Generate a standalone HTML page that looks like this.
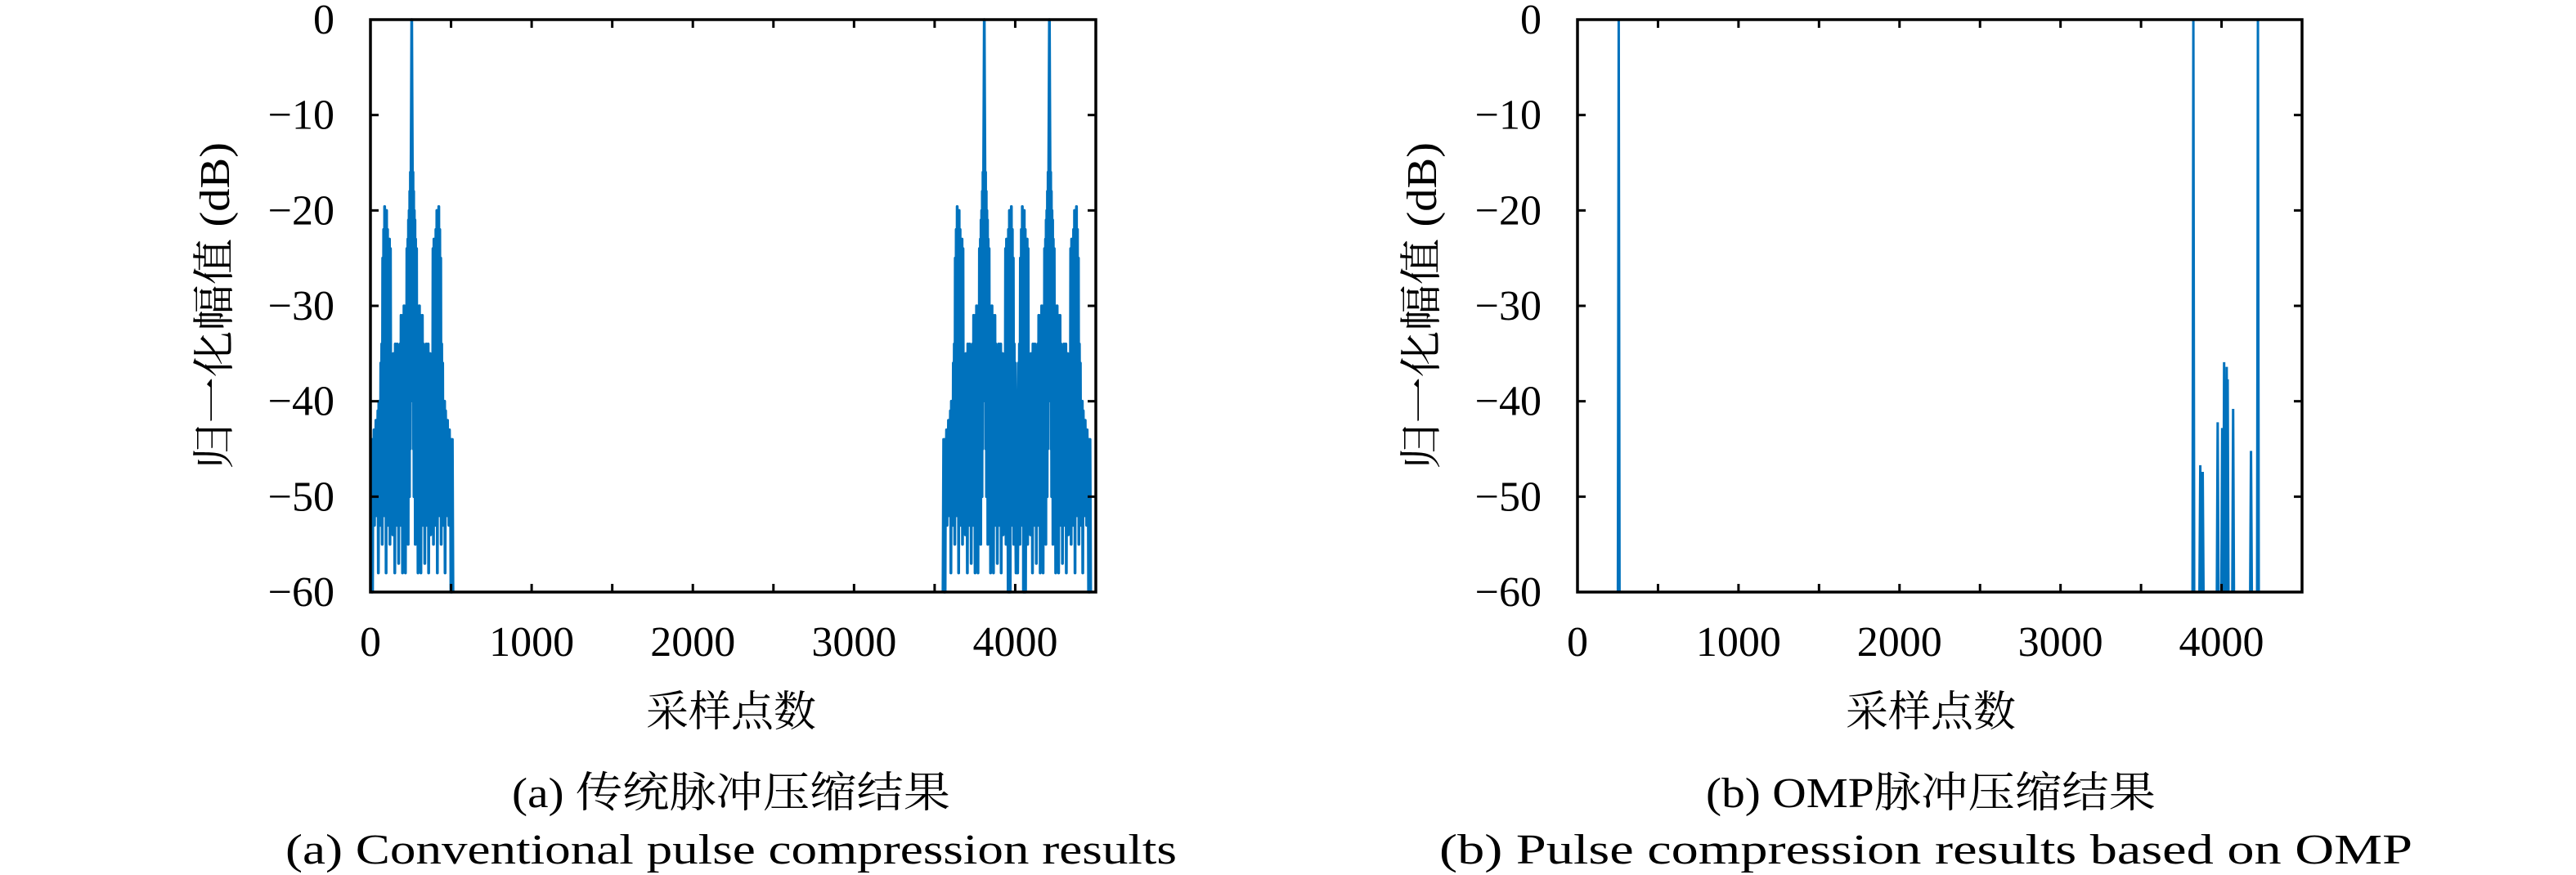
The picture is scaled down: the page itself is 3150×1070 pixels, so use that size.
<!DOCTYPE html>
<html><head><meta charset="utf-8">
<style>
html,body{margin:0;padding:0;background:#fff;}
svg{display:block;}
text{font-family:"Liberation Serif","Noto Serif CJK SC","Noto Sans CJK SC",serif;fill:#000;}
</style></head>
<body>
<svg id="fig" width="3150" height="1070" viewBox="0 0 3150 1070" xmlns="http://www.w3.org/2000/svg">
<defs>
<clipPath id="clipA"><rect x="453" y="22" width="887" height="704"/></clipPath>
<clipPath id="clipB"><rect x="1929" y="22" width="886" height="704"/></clipPath>
</defs>
<g id="panelA"></g>
<g id="panelB"></g>
<text x="894" y="987" font-size="52" text-anchor="middle" textLength="536" lengthAdjust="spacingAndGlyphs">(a) 传统脉冲压缩结果</text>
<text x="894" y="1056" font-size="52" text-anchor="middle" textLength="1090" lengthAdjust="spacingAndGlyphs">(a) Conventional pulse compression results</text>
<text x="2361" y="987" font-size="52" text-anchor="middle" textLength="550" lengthAdjust="spacingAndGlyphs">(b) OMP脉冲压缩结果</text>
<text x="2355" y="1056" font-size="52" text-anchor="middle" textLength="1190" lengthAdjust="spacingAndGlyphs">(b) Pulse compression results based on OMP</text>
</svg>
<script>
// ---- data ----
const xTickLabels = [0, 1000, 2000, 3000, 4000];
const xMinorTicks = [0, 500, 1000, 1500, 2000, 2500, 3000, 3500, 4000, 4500];
const yTickLabels = [0, -10, -20, -30, -40, -50, -60];
// conventional: pulse centres
const convPeaks = [256, 3808, 4212];
// one-sided sidelobe pattern (offset in samples from peak, dB)
const lobeOffsets = [0,2,4,6,8,10,12,14,16,18,20,22,24,27,30,33,36,39,42,45,48,51,54,57,60,63,66,69,72,75,78,81,84,87,90,93,96,99,102,105,108,111,114,117,120,123,126,129,132,135,138,141,144,147,150,153,156,159,162,165,168,171,174,177,180,183,186,189,192,195,198,201,204,207,210,213,216,219,222,225,228,231,234,237,240,243,246,249,252,256];
const lobeDb = [0,-8,-15,-40,-16,-45,-18,-50,-20,-40,-21,-55,-23,-45,-24,-52,-30,-58,-31,-47,-30,-50,-31,-58,-33,-44,-31,-53,-34,-40,-36,-57,-35,-45,-34,-53,-38,-48,-34,-58,-40,-46,-35,-54,-38,-45,-36,-50,-24,-55,-23,-45,-23,-53,-22,-48,-20,-58,-20,-45,-19.6,-52,-22,-47,-25,-55,-34,-45,-36,-53,-40,-48,-40,-58,-41,-46,-42,-52,-42,-47,-43,-53,-43,-48,-44,-60,-44,-60,-44,-60];
// OMP spikes
const ompPos = [256, 3825, 3868, 3883, 3976, 4004, 4016, 4032, 4038, 4072, 4183, 4226];
const ompDb = [0, 0, -46.7, -47.4, -42.2, -42.8, -35.9, -36.4, -37.7, -40.8, -45.2, 0];

const NS = "http://www.w3.org/2000/svg";
function mk(tag, attrs, parent){const e=document.createElementNS(NS,tag);for(const k in attrs)e.setAttribute(k,attrs[k]);parent.appendChild(e);return e;}

function axes(g, X0, X1, Y0, Y1, xmax, labelCx){
  const sx = v => X0 + (v/xmax)*(X1-X0);
  const sy = v => Y0 + (v/-60)*(Y1-Y0);
  return {sx, sy, draw: function(){
    const box = mk('rect',{x:X0,y:Y0,width:X1-X0,height:Y1-Y0,fill:'none',stroke:'#000','stroke-width':3.5},g);
    
    
    xMinorTicks.forEach(v=>{
      const x=sx(v);
      const t1=mk('line',{x1:x,y1:Y1,x2:x,y2:Y1-10,stroke:'#000','stroke-width':3},g);
      
      
      const t2=mk('line',{x1:x,y1:Y0,x2:x,y2:Y0+10,stroke:'#000','stroke-width':3},g);
      
      
    });
    xTickLabels.forEach(v=>{
      const t=mk('text',{x:sx(v),y:Y1+78,'font-size':52,'text-anchor':'middle'},g);
      t.textContent=String(v);
      
      
    });
    yTickLabels.forEach(v=>{
      const y=sy(v);
      const a=mk('line',{x1:X0,y1:y,x2:X0+10,y2:y,stroke:'#000','stroke-width':3},g);
      
      
      const b=mk('line',{x1:X1,y1:y,x2:X1-10,y2:y,stroke:'#000','stroke-width':3},g);
      
      
      const t=mk('text',{x:X0-44,y:y+17,'font-size':52,'text-anchor':'end'},g);
      t.textContent = v===0 ? '0' : '\u2212'+Math.abs(v);
      
      
    });
    const xl=mk('text',{x:labelCx,y:888,'font-size':52,'text-anchor':'middle'},g);
    xl.textContent='采样点数';
    
    
    const yx = X0-190, yc=(Y0+Y1)/2;
    const yl=mk('text',{x:yx,y:yc,'font-size':52,'text-anchor':'middle',transform:`rotate(-90 ${yx} ${yc}) translate(0 17)`,textLength:400,lengthAdjust:'spacingAndGlyphs'},g);
    yl.textContent='归一化幅值 (dB)';
    
    
  }};
}

// Panel A
(function(){
  const g=document.getElementById('panelA');
  const ax=axes(g,453,1340,24,724,4500,894);
  const samples={};
  convPeaks.forEach(c=>{
    lobeOffsets.forEach((o,i)=>{
      [c-o,c+o].forEach(x=>{
        if(x<0||x>4500) return;
        const k=x.toFixed(0);
        if(samples[k]===undefined||lobeDb[i]>samples[k]) samples[k]=lobeDb[i];
      });
    });
  });
  const xs=Object.keys(samples).map(Number).sort((a,b)=>a-b);
  let d='';
  let prev=null;
  xs.forEach(x=>{
    if(prev!==null && x-prev>20){ d+=`L${ax.sx(prev)},${ax.sy(-60)}M${ax.sx(x)},${ax.sy(-60)}`; }
    d+=(d===''?'M':'L')+ax.sx(x)+','+ax.sy(samples[x]);
    prev=x;
  });
  const p=mk('path',{d:d,fill:'none',stroke:'#0072BD','stroke-width':3.5,'stroke-linejoin':'round','clip-path':'url(#clipA)'},g);
  
  
  ax.draw();
})();

// Panel B
(function(){
  const g=document.getElementById('panelB');
  const ax=axes(g,1929,2815,24,724,4500,2361);
  let d='M'+ax.sx(0)+','+ax.sy(-60);
  ompPos.forEach((x,i)=>{
    d+=`L${ax.sx(x)-1},${ax.sy(-60)}L${ax.sx(x)},${ax.sy(ompDb[i])}L${ax.sx(x)+1},${ax.sy(-60)}`;
  });
  d+='L'+ax.sx(4500)+','+ax.sy(-60);
  const p=mk('path',{d:d,fill:'none',stroke:'#0072BD','stroke-width':3,'clip-path':'url(#clipB)'},g);
  
  
  ax.draw();
})();
</script>
</body></html>
